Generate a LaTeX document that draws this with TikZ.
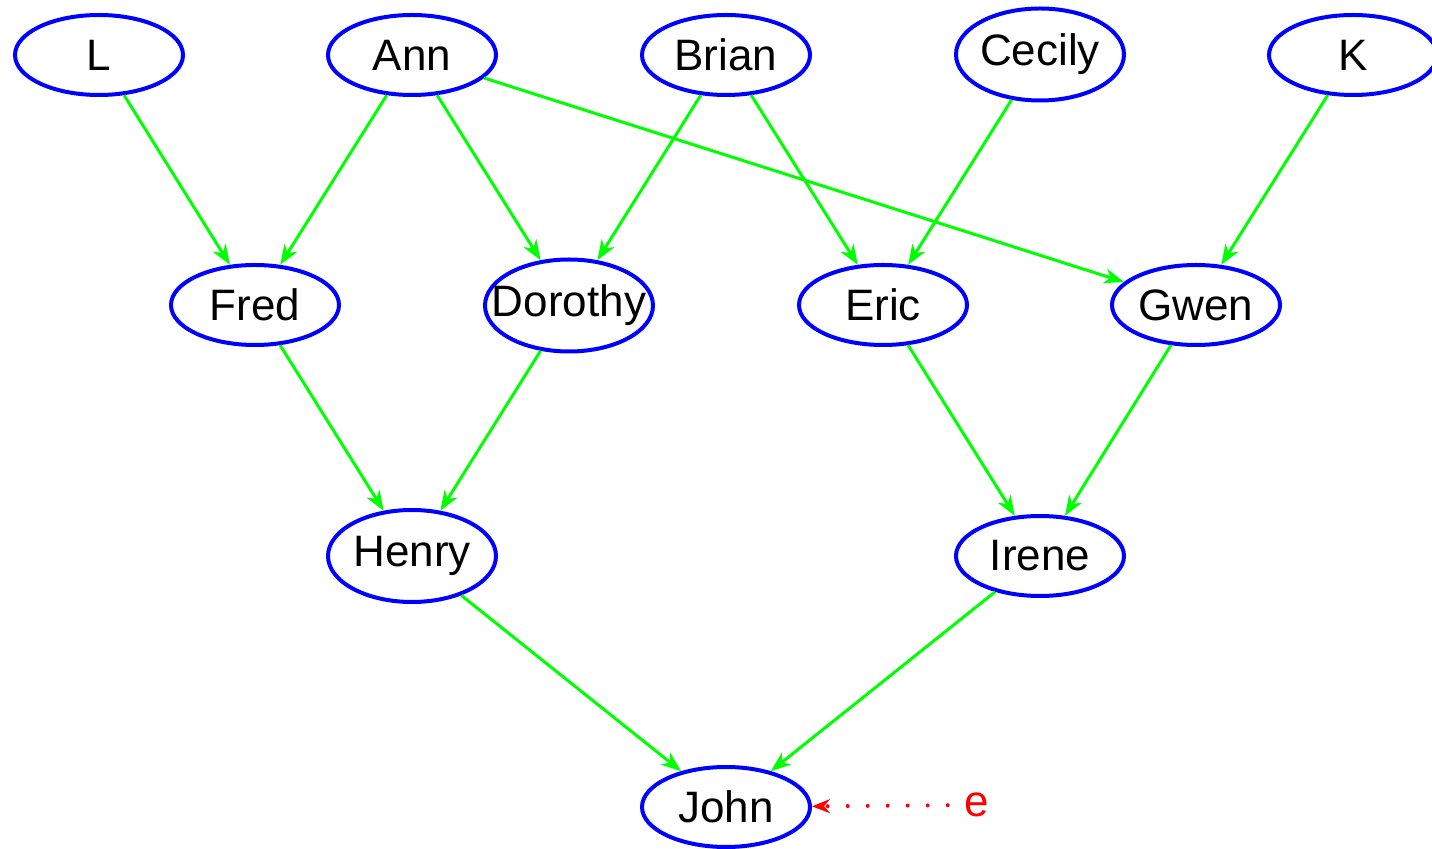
\documentclass[tikz,border=0pt]{standalone}
\usepackage{fontspec}
\setmainfont{Liberation Sans}
\usetikzlibrary{shapes.geometric,arrows.meta}
\begin{document}
\begin{tikzpicture}[x=0.5pt,y=-0.5pt,
    person/.style={ellipse,draw=blue,line width=2pt,inner xsep=-10pt,inner ysep=0pt,
        minimum width=84pt,minimum height=40pt,font=\fontsize{22}{22}\selectfont},
    tall/.style={minimum height=46pt},
    parent/.style={draw=green,line width=1.5pt,
        -{Stealth[length=10pt,width=7.5pt,inset=3pt]}}]
    \useasboundingbox (0,0) rectangle (1432,849);
    % first generation
    \node[person] (L) at (99,55) {L};
    \node[person] (Ann) at (412,55) {Ann};
    \node[person] (Brian) at (726,55) {Brian};
    \node[person,tall] (Cecily) at (1040,54.5) {Cecily};
    \node[person] (K) at (1353,55) {K};
    % second generation
    \node[person] (Fred) at (255,305) {Fred};
    \node[person,tall] (Dorothy) at (569,305.5) {Dorothy};
    \node[person] (Eric) at (883,305) {Eric};
    \node[person] (Gwen) at (1196,305) {Gwen};
    % third generation
    \node[person,tall] (Henry) at (412,556) {Henry};
    \node[person] (Irene) at (1040,556) {Irene};
    \node[person] (John) at (726,807) {John};
    \node[text=red,font=\fontsize{22}{22}\selectfont] (e) at (977,805) {e};

    \draw[parent] (L) -- (Fred);
    \draw[parent] (Ann) -- (Fred);
    \draw[parent] (Ann) -- (Dorothy);
    \draw[parent] (Ann) -- (Gwen);
    \draw[parent] (Brian) -- (Dorothy);
    \draw[parent] (Brian) -- (Eric);
    \draw[parent] (Cecily) -- (Eric);
    \draw[parent] (K) -- (Gwen);
    \draw[parent] (Fred) -- (Henry);
    \draw[parent] (Dorothy) -- (Henry);
    \draw[parent] (Eric) -- (Irene);
    \draw[parent] (Gwen) -- (Irene);
    \draw[parent] (Henry) -- (John);
    \draw[parent] (Irene) -- (John);
    %\draw (e) -- (John);
    \draw[red,line width=2pt,dash pattern=on 0pt off 10pt,line cap=round,shorten <=5pt,
        -{Stealth[length=9pt,width=7pt,inset=3pt,line cap=butt]}] (e) -- (John);
\end{tikzpicture}
\end{document}
